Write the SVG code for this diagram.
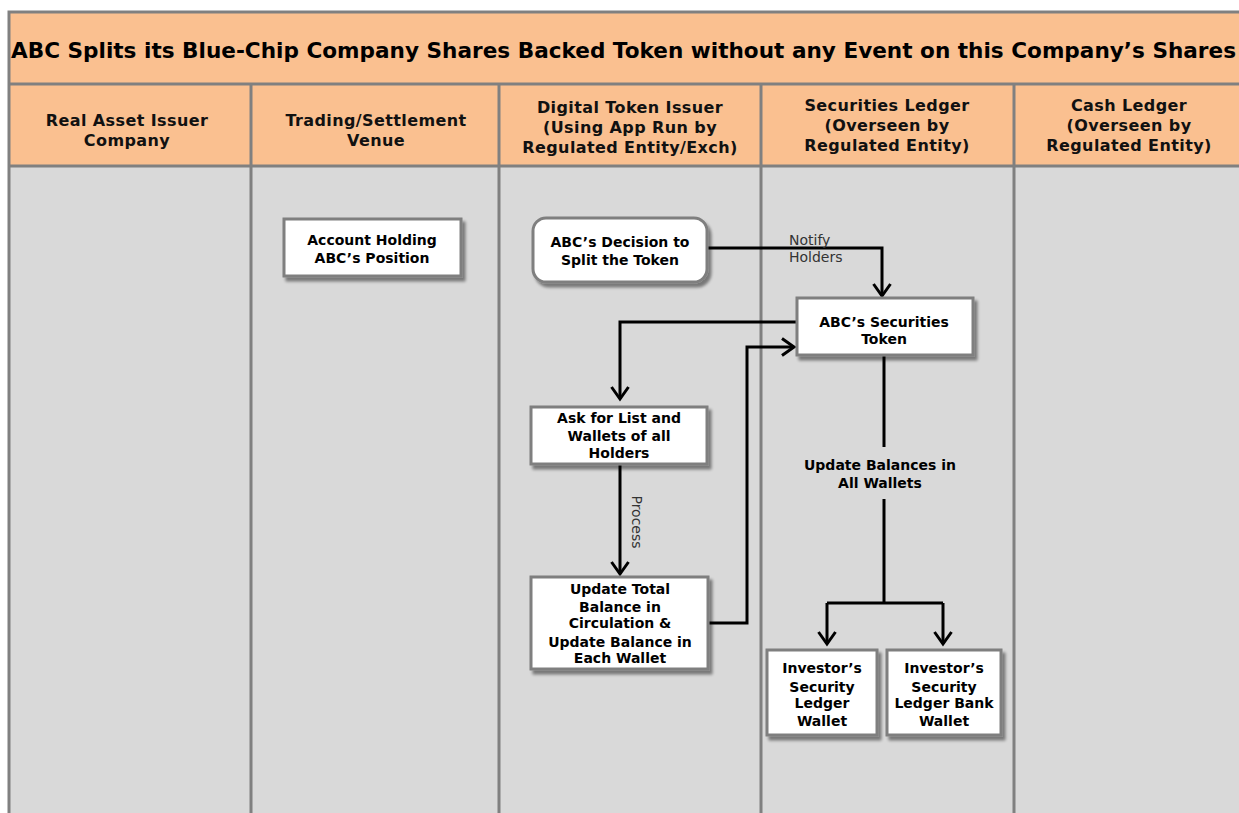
<svg xmlns="http://www.w3.org/2000/svg" width="1239" height="813" viewBox="0 0 1239 813">
<defs>
<style>
.frame{stroke:#808080;stroke-width:3;fill:none}
.hdr{fill:#FAC090}
.lane{fill:#D9D9D9}
.title{font-family:"DejaVu Sans",Verdana,sans-serif;font-weight:bold;font-size:20.5px;fill:#000}
.htxt{font-family:"DejaVu Sans",Verdana,sans-serif;font-weight:bold;font-size:16px;letter-spacing:0.4px;fill:#111;text-anchor:middle}
.box{fill:#fff;stroke:#7f7f7f;stroke-width:3;filter:url(#sh)}
.ntxt{font-family:"DejaVu Sans",Tahoma,sans-serif;font-weight:bold;font-size:14px;fill:#000;text-anchor:middle}
.lbl{font-family:"DejaVu Sans",Tahoma,sans-serif;font-size:14px;fill:#333}
.conn{stroke:#000;stroke-width:3;fill:none;stroke-linejoin:miter}
.arr{marker-end:url(#ah)}
</style>
<filter id="sh" x="-20%" y="-20%" width="140%" height="150%">
<feGaussianBlur in="SourceAlpha" stdDeviation="1.8"/>
<feOffset dx="3" dy="4" result="b"/>
<feComponentTransfer><feFuncA type="linear" slope="0.45"/></feComponentTransfer>
<feMerge><feMergeNode/><feMergeNode in="SourceGraphic"/></feMerge>
</filter>
<marker id="ah" markerUnits="userSpaceOnUse" viewBox="-2 -2 18 21" markerWidth="18" markerHeight="21" refX="12" refY="8.5" orient="auto">
<path d="M0,0 L12,8.5 L0,17" fill="none" stroke="#000" stroke-width="3"/>
</marker>
</defs>
<rect width="1239" height="813" fill="#fff"/>
<g id="background">
<rect class="hdr" x="9" y="12" width="1240" height="154"/>
<rect class="lane" x="9" y="166" width="1240" height="660"/>
<path class="frame" d="M9,813 V12 H1250 M9,84 H1250 M9,166 H1250 M251,84 V813 M499,84 V813 M761,84 V813 M1014,84 V813"/>
<text class="title" x="11" y="58" textLength="1225" lengthAdjust="spacingAndGlyphs">ABC Splits its Blue-Chip Company Shares Backed Token without any Event on this Company’s Shares</text>
</g>
<g id="lane-headers">
<text class="htxt" x="127" y="126">Real Asset Issuer</text>
<text class="htxt" x="127" y="146">Company</text>
<text class="htxt" x="376" y="126">Trading/Settlement</text>
<text class="htxt" x="376" y="146">Venue</text>
<text class="htxt" x="630" y="113">Digital Token Issuer</text>
<text class="htxt" x="630" y="133">(Using App Run by</text>
<text class="htxt" x="630" y="153">Regulated Entity/Exch)</text>
<text class="htxt" x="887" y="111">Securities Ledger</text>
<text class="htxt" x="887" y="131">(Overseen by</text>
<text class="htxt" x="887" y="151">Regulated Entity)</text>
<text class="htxt" x="1129" y="111">Cash Ledger</text>
<text class="htxt" x="1129" y="131">(Overseen by</text>
<text class="htxt" x="1129" y="151">Regulated Entity)</text>
</g>
<g id="connectors">
<path class="conn arr" d="M707,248 H882 V296"/>
<path class="conn arr" d="M797,322 H620 V399"/>
<path class="conn arr" d="M620,464 V574"/>
<path class="conn arr" d="M708,623 H747 V347 H794"/>
<path class="conn" d="M884,355 V447 M884,499 V603 M827,603 H943"/>
<path class="conn arr" d="M827,603 V644"/>
<path class="conn arr" d="M943,603 V644"/>
<text class="lbl" x="789" y="245">Notify</text>
<text class="lbl" x="789" y="262">Holders</text>
<text class="lbl" transform="translate(632,522) rotate(90)" text-anchor="middle">Process</text>
<text class="ntxt" x="880" y="470">Update Balances in</text>
<text class="ntxt" x="880" y="488">All Wallets</text>
</g>
<g id="node-account">
<rect class="box" x="284" y="219" width="177" height="57"/>
<text class="ntxt" x="372" y="245">Account Holding</text>
<text class="ntxt" x="372" y="263">ABC’s Position</text>
</g>
<g id="node-decision">
<rect class="box" x="533" y="218" width="174" height="64" rx="13"/>
<text class="ntxt" x="620" y="247">ABC’s Decision to</text>
<text class="ntxt" x="620" y="265">Split the Token</text>
</g>
<g id="node-token">
<rect class="box" x="797" y="298" width="176" height="57"/>
<text class="ntxt" x="884" y="327">ABC’s Securities</text>
<text class="ntxt" x="884" y="344">Token</text>
</g>
<g id="node-ask">
<rect class="box" x="531" y="407" width="176" height="57"/>
<text class="ntxt" x="619" y="423">Ask for List and</text>
<text class="ntxt" x="619" y="441">Wallets of all</text>
<text class="ntxt" x="619" y="458">Holders</text>
</g>
<g id="node-update">
<rect class="box" x="531" y="577" width="177" height="92"/>
<text class="ntxt" x="620" y="594">Update Total</text>
<text class="ntxt" x="620" y="612">Balance in</text>
<text class="ntxt" x="620" y="628">Circulation  &amp;</text>
<text class="ntxt" x="620" y="647">Update Balance in</text>
<text class="ntxt" x="620" y="663">Each Wallet</text>
</g>
<g id="node-wallet1">
<rect class="box" x="767" y="650" width="110" height="85"/>
<text class="ntxt" x="822" y="673">Investor’s</text>
<text class="ntxt" x="822" y="692">Security</text>
<text class="ntxt" x="822" y="708">Ledger</text>
<text class="ntxt" x="822" y="726">Wallet</text>
</g>
<g id="node-wallet2">
<rect class="box" x="887" y="650" width="114" height="85"/>
<text class="ntxt" x="944" y="673">Investor’s</text>
<text class="ntxt" x="944" y="692">Security</text>
<text class="ntxt" x="944" y="708">Ledger Bank</text>
<text class="ntxt" x="944" y="726">Wallet</text>
</g>
</svg>
